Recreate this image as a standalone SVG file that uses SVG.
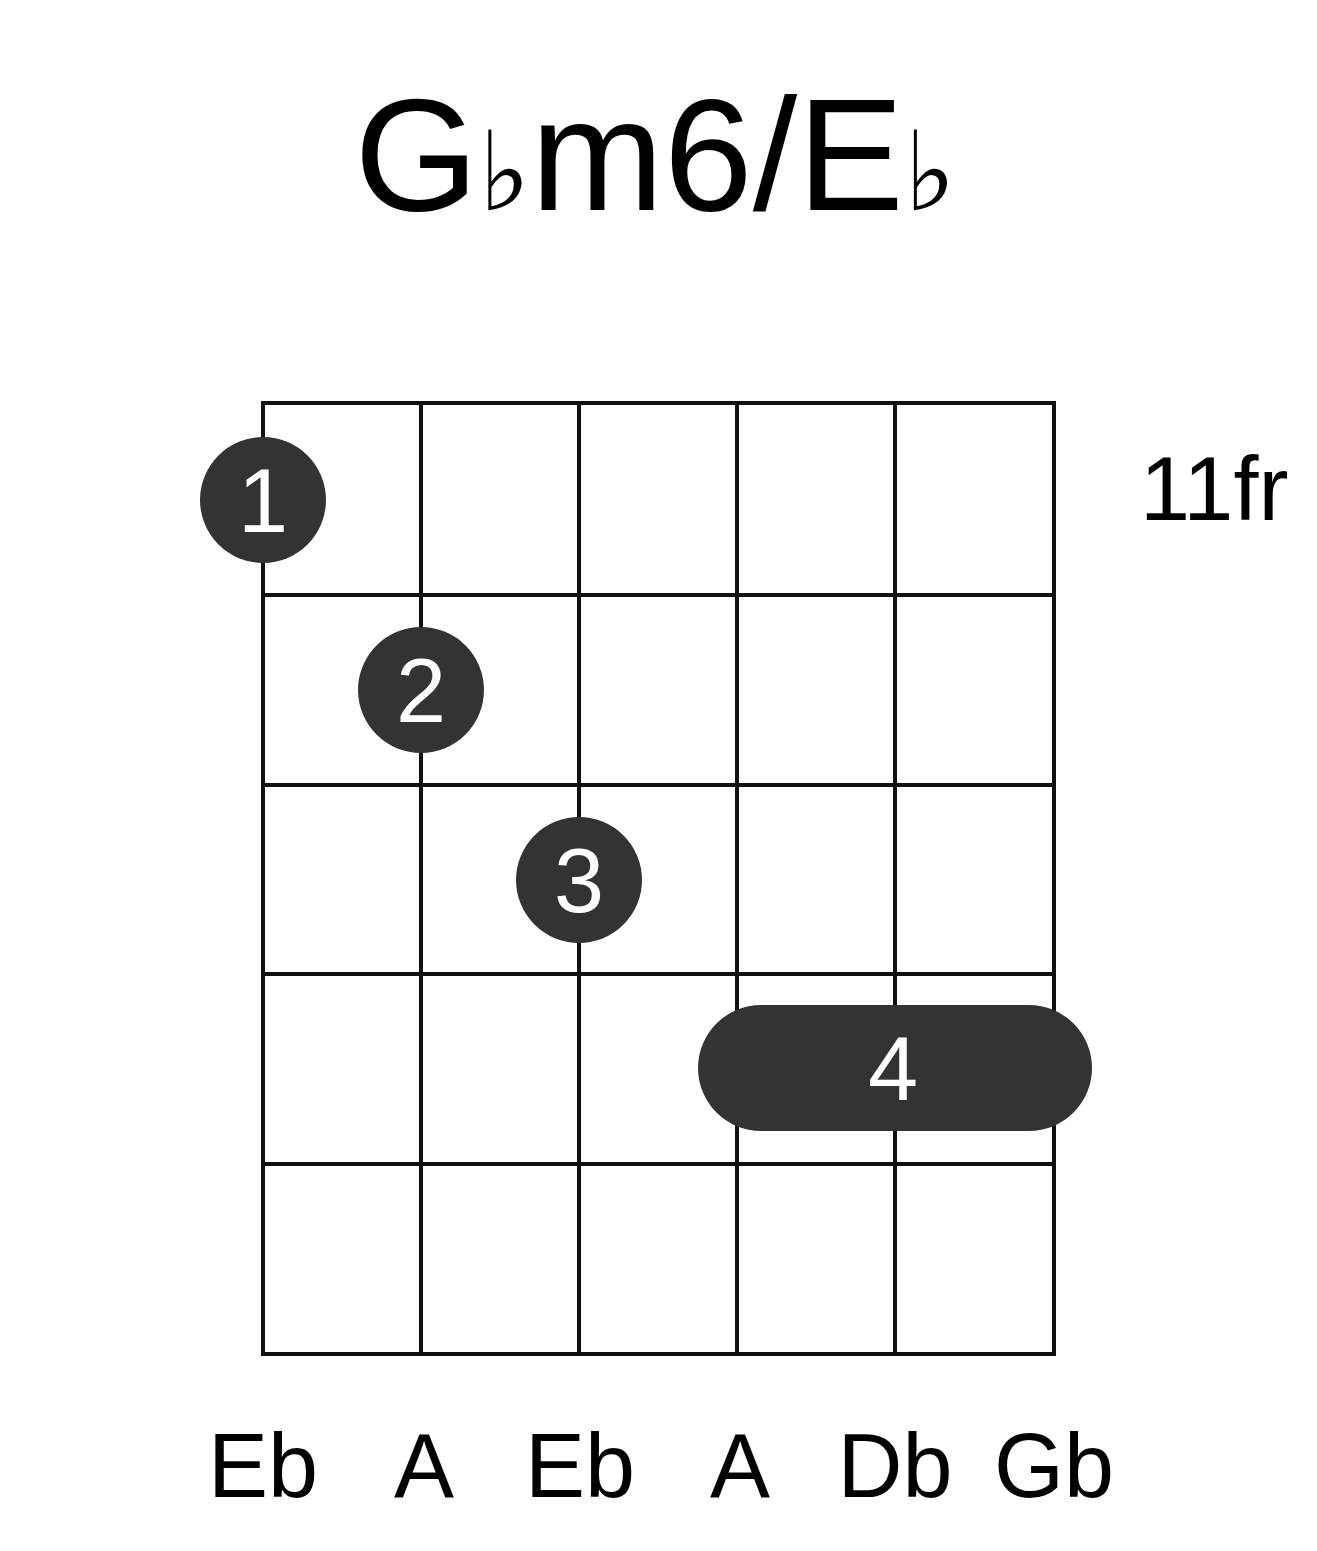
<svg xmlns="http://www.w3.org/2000/svg" width="1317" height="1551" viewBox="0 0 1317 1551">
<style>
.t{font-family:"Liberation Sans",Arial,sans-serif;fill:#000}
.g{stroke:#111;stroke-width:4;fill:none}
.d{fill:#333}
.n{font-family:"Liberation Sans",Arial,sans-serif;fill:#fff;font-size:90px;text-anchor:middle}
</style>
<rect width="1317" height="1551" fill="#fff"/>
<text class="t" x="655" y="210" font-size="160" text-anchor="middle">G<tspan font-family="DejaVu Sans" font-size="110">♭</tspan>m6/E<tspan font-family="DejaVu Sans" font-size="110">♭</tspan></text>
<g id="grid" class="g">
<rect x="263" y="403" width="791" height="951"/>
<path d="M421 403V1354M579 403V1354M737 403V1354M895 403V1354M263 595H1054M263 785H1054M263 974H1054M263 1164H1054"/>
</g>
<text class="t" x="1140" y="520" font-size="90">11fr</text>
<g id="f1"><circle class="d" cx="263" cy="500" r="63"/><text class="n" x="263" y="532">1</text></g>
<g id="f2"><circle class="d" cx="421" cy="690" r="63"/><text class="n" x="421" y="722">2</text></g>
<g id="f3"><circle class="d" cx="579" cy="880" r="63"/><text class="n" x="579" y="912">3</text></g>
<g id="f4"><rect class="d" x="698" y="1005" width="394" height="126" rx="63"/><text class="n" x="893" y="1100">4</text></g>
<g id="labels" class="t" font-size="90" text-anchor="middle">
<text x="263" y="1497">Eb</text><text x="424" y="1497">A</text><text x="580" y="1497">Eb</text><text x="740" y="1497">A</text><text x="895" y="1497">Db</text><text x="1054" y="1497">Gb</text>
</g>
</svg>
